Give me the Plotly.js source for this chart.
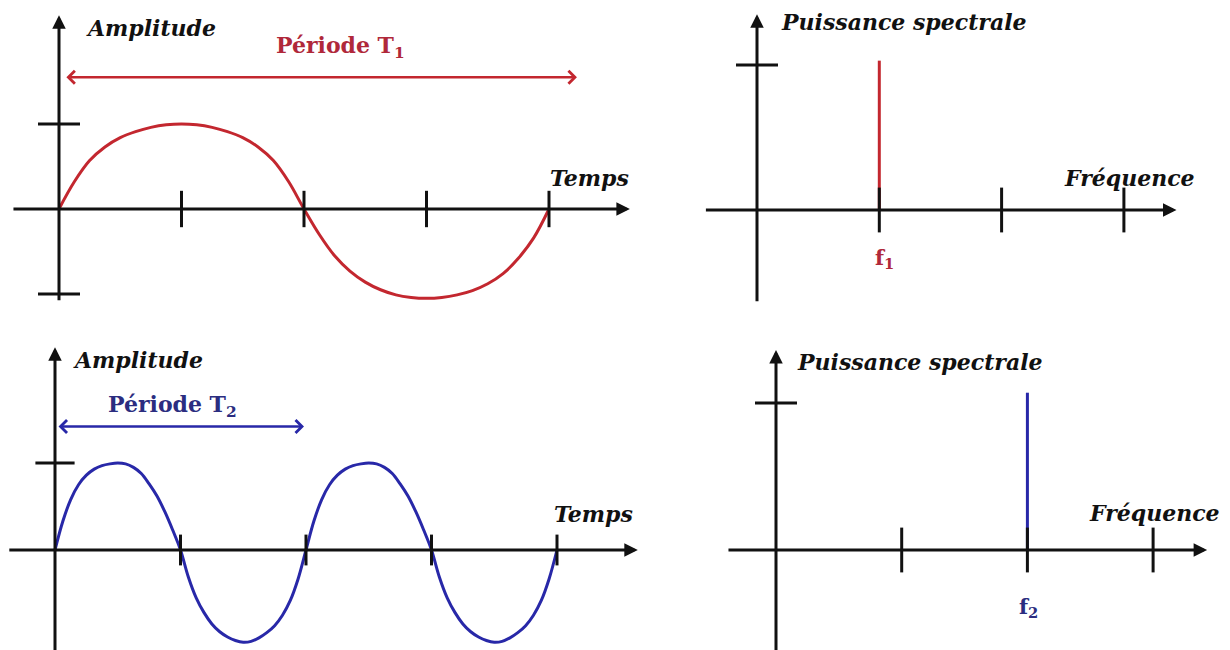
<!DOCTYPE html>
<html>
<head>
<meta charset="utf-8">
<script src="https://cdn.plot.ly/plotly-3.0.1.min.js"></script>
<style>html,body{margin:0;padding:0;background:#fff}</style>
</head>
<body>
<div id="chart" style="width:1230px;height:650px"></div>
<script>
// signal 1 : one period T1 over the time axis (T1 = 1)
var time1 = [0, 0.03125, 0.0625, 0.09375, 0.125, 0.15625, 0.1875, 0.21875,
             0.25, 0.28125, 0.3125, 0.34375, 0.375, 0.40625, 0.4375, 0.46875,
             0.5, 0.53125, 0.5625, 0.59375, 0.625, 0.65625, 0.6875, 0.71875,
             0.75, 0.78125, 0.8125, 0.84375, 0.875, 0.90625, 0.9375, 0.96875, 1];
var amp1 = [0, 0.32, 0.57, 0.73, 0.84, 0.91, 0.96, 0.99,
            1, 0.99, 0.96, 0.91, 0.84, 0.73, 0.57, 0.32,
            0, -0.3, -0.55, -0.73, -0.86, -0.95, -1.01, -1.04,
            -1.05, -1.04, -1.01, -0.96, -0.88, -0.76, -0.58, -0.34, 0];

// signal 2 : two periods T2 on the same time span (T2 = 0.5)
var time2 = [0, 0.015625, 0.03125, 0.046875, 0.0625, 0.078125, 0.09375, 0.109375,
             0.125, 0.140625, 0.15625, 0.171875, 0.1875, 0.203125, 0.21875, 0.234375,
             0.25, 0.265625, 0.28125, 0.296875, 0.3125, 0.328125, 0.34375, 0.359375,
             0.375, 0.390625, 0.40625, 0.421875, 0.4375, 0.453125, 0.46875, 0.484375,
             0.5, 0.515625, 0.53125, 0.546875, 0.5625, 0.578125, 0.59375, 0.609375,
             0.625, 0.640625, 0.65625, 0.671875, 0.6875, 0.703125, 0.71875, 0.734375,
             0.75, 0.765625, 0.78125, 0.796875, 0.8125, 0.828125, 0.84375, 0.859375,
             0.875, 0.890625, 0.90625, 0.921875, 0.9375, 0.953125, 0.96875, 0.984375, 1];
var amp2 = [0, 0.33, 0.58, 0.75, 0.86, 0.93, 0.97, 0.99,
            1, 0.99, 0.95, 0.88, 0.76, 0.62, 0.44, 0.23,
            0, -0.31, -0.55, -0.72, -0.85, -0.94, -1, -1.04,
            -1.06, -1.05, -1.01, -0.95, -0.87, -0.75, -0.58, -0.33,
            0, 0.33, 0.58, 0.75, 0.86, 0.93, 0.97, 0.99,
            1, 0.99, 0.95, 0.88, 0.76, 0.62, 0.44, 0.23,
            0, -0.31, -0.55, -0.72, -0.85, -0.94, -1, -1.04,
            -1.06, -1.05, -1.01, -0.95, -0.87, -0.75, -0.58, -0.33, 0];

// spectra
var freq1 = [1];
var power1 = [1.03];
var freq2 = [2];
var power2 = [1.07];

// tick marks drawn on the axes
var timeTicks = [0.25, 0.5, 0.75, 1];
var ampTicks1 = [1, -1];
var ampTicks2 = [1];
var freqTicks = [1, 2, 3];
var powerTicks = [1];

var W = 1230, H = 650;
var red = '#c3272f', redText = '#b0283a';
var blue = '#2828a8', blueText = '#2b2d80';
var ink = '#111111';

var layout = {
  width: W, height: H,
  margin: {l: 0, r: 0, t: 0, b: 0},
  paper_bgcolor: '#fff', plot_bgcolor: 'rgba(0,0,0,0)',
  showlegend: false,
  annotations: []
};

// one panel = a pair of hidden axes, placed so that the origin falls on (ox, oy) in pixels
function frame(n, box, ox, oy, sx, sy) {
  var s = n === 1 ? '' : String(n);
  layout['xaxis' + s] = {domain: [box[0] / W, box[1] / W], range: [(box[0] - ox) / sx, (box[1] - ox) / sx],
    visible: false, fixedrange: true, anchor: 'y' + s};
  layout['yaxis' + s] = {domain: [1 - box[3] / H, 1 - box[2] / H], range: [(oy - box[3]) / sy, (oy - box[2]) / sy],
    visible: false, fixedrange: true, anchor: 'x' + s};
  return {x: 'x' + s, y: 'y' + s};
}

var p1 = frame(1, [0, 660, 0, 325], 59, 209, 490, 85);
var p2 = frame(2, [660, 1230, 0, 325], 757, 210, 122.3, 145);
var p3 = frame(3, [0, 660, 325, 650], 55, 550, 502, 87);
var p4 = frame(4, [660, 1230, 325, 650], 776, 550, 125.7, 147);

function axisArrow(p, x0, y0, x1, y1) {
  layout.annotations.push({xref: p.x, yref: p.y, axref: p.x, ayref: p.y,
    x: x1, y: y1, ax: x0, ay: y0, text: '', showarrow: true,
    arrowhead: 2, arrowsize: 0.9, arrowwidth: 3, arrowcolor: ink});
}
function periodArrow(p, x0, x1, y, color) {
  layout.annotations.push({xref: p.x, yref: p.y, axref: p.x, ayref: p.y,
    x: x1, y: y, ax: x0, ay: y, text: '', showarrow: true, arrowside: 'end+start',
    arrowhead: 4, startarrowhead: 4, arrowsize: 1, startarrowsize: 1, arrowwidth: 2.5, arrowcolor: color});
}
function label(text, px, py, anchor, size, color) {
  layout.annotations.push({xref: 'paper', yref: 'paper', x: px / W, y: 1 - py / H,
    xanchor: anchor, yanchor: 'middle', showarrow: false, text: text,
    font: {family: 'DejaVu Serif', size: size, color: color}});
}

// axes with arrowheads
axisArrow(p1, -0.096, 0, 1.165, 0);
axisArrow(p1, 0, -1.09, 0, 2.28);
axisArrow(p2, -0.43, 0, 3.43, 0);
axisArrow(p2, 0, -0.64, 0, 1.35);
axisArrow(p3, -0.094, 0, 1.161, 0);
axisArrow(p3, 0, -1.2, 0, 2.33);
axisArrow(p4, -0.39, 0, 3.43, 0);
axisArrow(p4, 0, -0.7, 0, 1.36);

// period arrows
periodArrow(p1, 0.012, 1.057, 1.55, red);
periodArrow(p3, 0.004, 0.496, 1.42, blue);

// texts
label('<b><i>Amplitude</i></b>', 84, 28, 'left', 22, ink);
label('<b>Période T<sub>1</sub></b>', 340, 47, 'center', 22, redText);
label('<b><i>Temps</i></b>', 589, 178, 'center', 22, ink);
label('<b><i>Puissance spectrale</i></b>', 779, 22, 'left', 22, ink);
label('<b><i>Fréquence</i></b>', 1129, 178, 'center', 22, ink);
label('<b>f<sub>1</sub></b>', 884, 258, 'center', 21, redText);
label('<b><i>Amplitude</i></b>', 71, 360, 'left', 22, ink);
label('<b>Période T<sub>2</sub></b>', 172, 406, 'center', 22, blueText);
label('<b><i>Temps</i></b>', 593, 514, 'center', 22, ink);
label('<b><i>Puissance spectrale</i></b>', 795, 362, 'left', 22, ink);
label('<b><i>Fréquence</i></b>', 1154, 513, 'center', 22, ink);
label('<b>f<sub>2</sub></b>', 1028, 607, 'center', 21, blueText);

function zeros(a) { return a.map(function () { return 0; }); }
function tickTrace(p, xs, ys, symbol, size) {
  return {x: xs, y: ys, xaxis: p.x, yaxis: p.y, type: 'scatter', mode: 'markers', hoverinfo: 'skip',
    marker: {symbol: symbol, size: size, color: ink, line: {width: 3, color: ink}}};
}
function spike(p, f, pw, color) {
  return {x: [f[0], f[0]], y: [0, pw[0]], xaxis: p.x, yaxis: p.y, type: 'scatter', mode: 'lines',
    hoverinfo: 'skip', line: {color: color, width: 3}};
}

var data = [
  {x: time1, y: amp1, xaxis: p1.x, yaxis: p1.y, type: 'scatter', mode: 'lines', hoverinfo: 'skip',
   line: {color: red, width: 3, shape: 'spline', smoothing: 1}},
  {x: time2, y: amp2, xaxis: p3.x, yaxis: p3.y, type: 'scatter', mode: 'lines', hoverinfo: 'skip',
   line: {color: blue, width: 3, shape: 'spline', smoothing: 1}},
  spike(p2, freq1, power1, red),
  spike(p4, freq2, power2, blue),
  tickTrace(p1, timeTicks, zeros(timeTicks), 'line-ns', 26),
  tickTrace(p1, zeros(ampTicks1), ampTicks1, 'line-ew', 30),
  tickTrace(p2, freqTicks, zeros(freqTicks), 'line-ns', 32),
  tickTrace(p2, zeros(powerTicks), powerTicks, 'line-ew', 30),
  tickTrace(p3, timeTicks, zeros(timeTicks), 'line-ns', 22),
  tickTrace(p3, zeros(ampTicks2), ampTicks2, 'line-ew', 28),
  tickTrace(p4, freqTicks, zeros(freqTicks), 'line-ns', 32),
  tickTrace(p4, zeros(powerTicks), powerTicks, 'line-ew', 30)
];

Plotly.newPlot('chart', data, layout, {displayModeBar: false, staticPlot: true});
</script>
</body>
</html>
